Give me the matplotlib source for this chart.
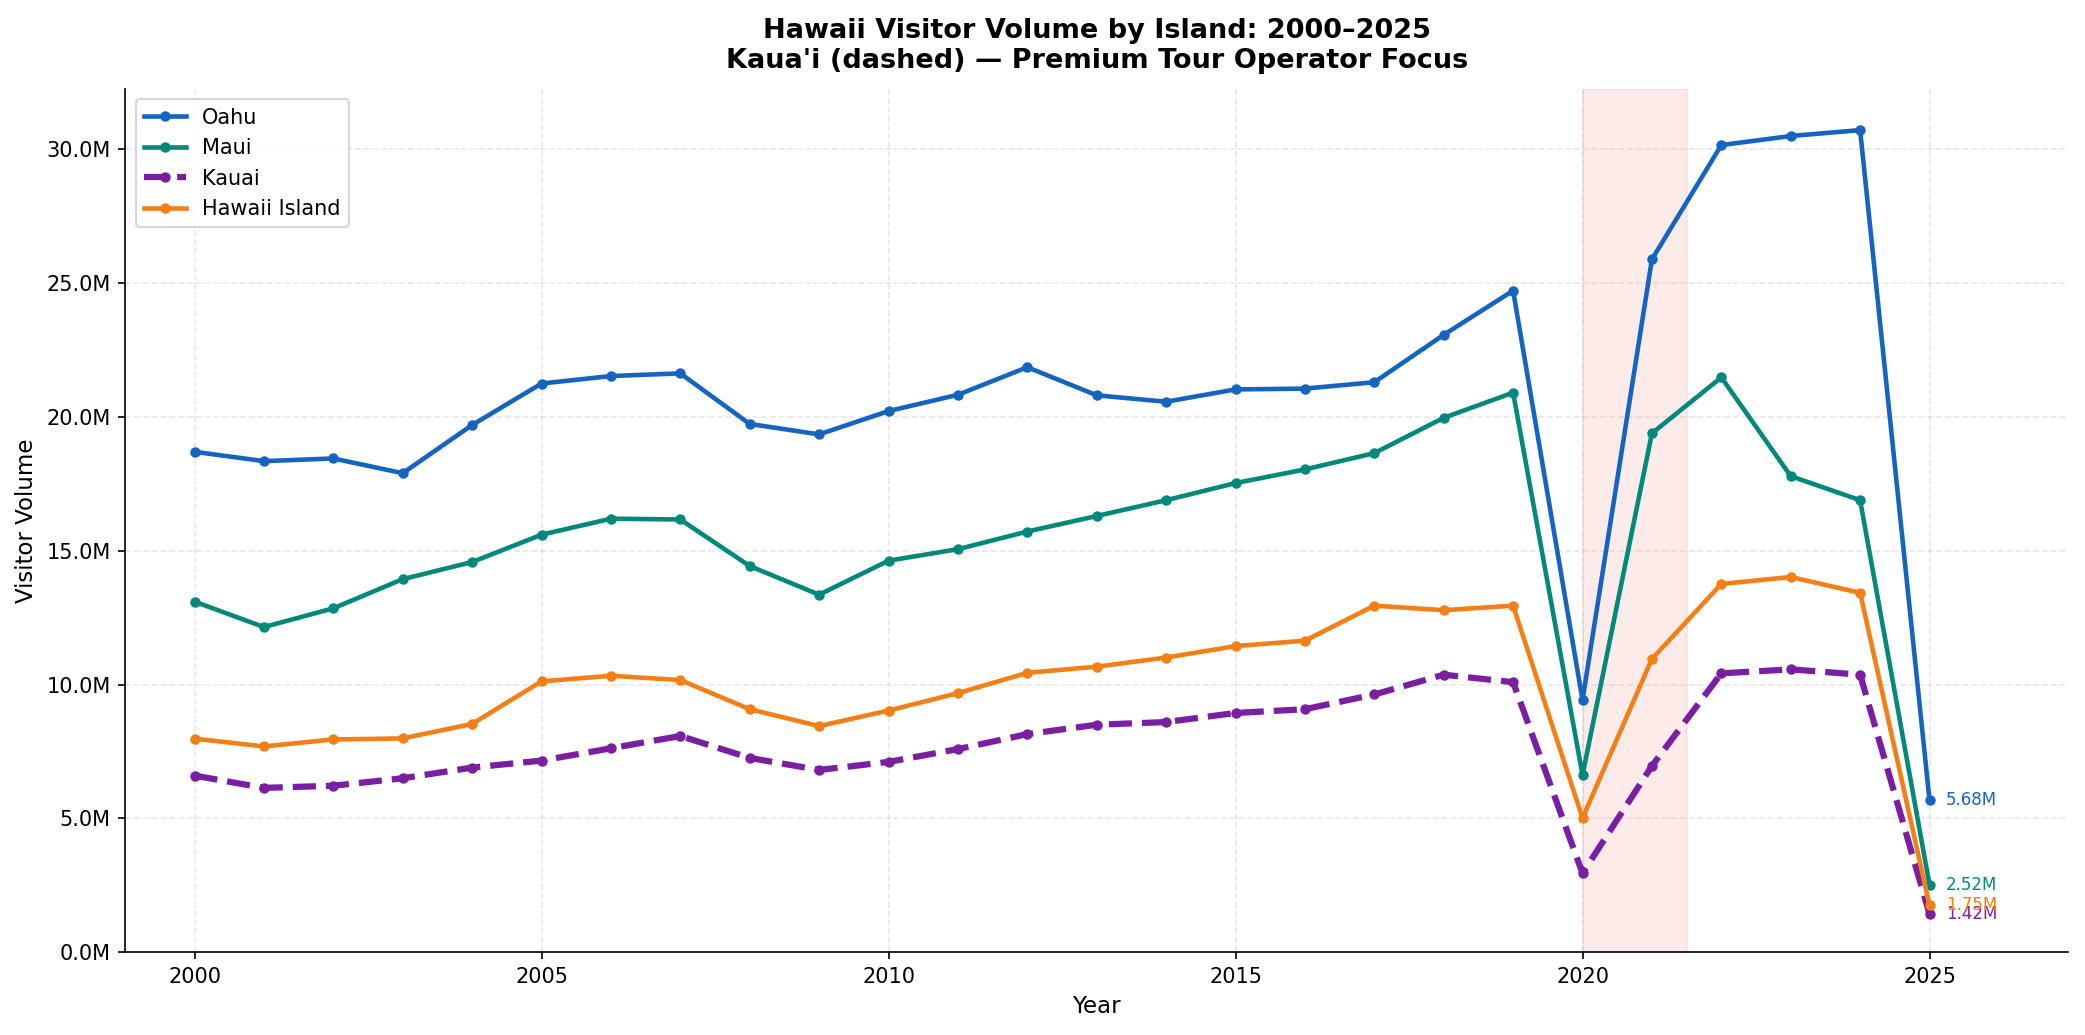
import numpy as np
import matplotlib
matplotlib.use('Agg')
import matplotlib.pyplot as plt
from matplotlib.ticker import FuncFormatter

years = list(range(2000, 2026))

# visitor volume, millions
oahu = [18.70, 18.35, 18.45, 17.90, 19.70, 21.25, 21.53, 21.63, 19.74, 19.35,
        20.22, 20.83, 21.86, 20.81, 20.57, 21.03, 21.06, 21.30, 23.07, 24.72,
        9.42, 25.89, 30.16, 30.50, 30.72, 5.68]
maui = [13.10, 12.15, 12.85, 13.94, 14.58, 15.60, 16.20, 16.17, 14.43, 13.36,
        14.63, 15.06, 15.72, 16.30, 16.89, 17.53, 18.04, 18.65, 19.97, 20.91,
        6.62, 19.39, 21.48, 17.79, 16.89, 2.52]
kauai = [6.60, 6.14, 6.22, 6.50, 6.90, 7.16, 7.62, 8.08, 7.26, 6.81,
         7.11, 7.59, 8.15, 8.50, 8.60, 8.94, 9.08, 9.63, 10.37, 10.09,
         2.95, 6.96, 10.42, 10.57, 10.37, 1.42]
hawaii = [7.98, 7.69, 7.95, 7.99, 8.53, 10.12, 10.33, 10.17, 9.08, 8.45,
          9.03, 9.68, 10.44, 10.67, 11.01, 11.44, 11.64, 12.95, 12.78, 12.95,
          5.01, 10.96, 13.76, 14.02, 13.43, 1.75]

names = ['Oahu', 'Maui', 'Kauai', 'Hawaii Island']
series = [oahu, maui, kauai, hawaii]
colors = ['#1565C0', '#00897B', '#7B1FA2', '#F57F17']

fig, ax = plt.subplots(figsize=(13.9, 6.9), dpi=150)
fig.subplots_adjust(left=0.060, right=0.992, top=0.914, bottom=0.080)

ax.axvspan(2020, 2021.5, color='#F44336', alpha=0.1, zorder=0)

for name, vals, c in zip(names, series, colors):
    if name == 'Kauai':
        ax.plot(years, vals, '--', color=c, lw=3, marker='o', ms=4, label=name, zorder=3)
    else:
        ax.plot(years, vals, '-', color=c, lw=2.2, marker='o', ms=4, label=name, zorder=3)
    ax.annotate(f'{vals[-1]:.2f}M', xy=(years[-1], vals[-1]), xytext=(8, 0),
                textcoords='offset points', va='center', fontsize=8, color=c)

ax.set_xlim(1999, 2027)
ax.set_ylim(0, max(oahu) * 1.05)
ax.yaxis.set_major_formatter(FuncFormatter(lambda v, p: f'{v:.1f}M'))
ax.grid(True, linestyle='--', alpha=0.3)
ax.spines['top'].set_visible(False)
ax.spines['right'].set_visible(False)

ax.set_xlabel('Year', fontsize=11)
ax.set_ylabel('Visitor Volume', fontsize=11)
ax.set_title("Hawaii Visitor Volume by Island: 2000\u20132025\nKaua'i (dashed) \u2014 Premium Tour Operator Focus",
             fontsize=13, fontweight='bold', pad=10)
ax.legend(loc='upper left', fontsize=10)

plt.savefig('out.png', dpi=150)
